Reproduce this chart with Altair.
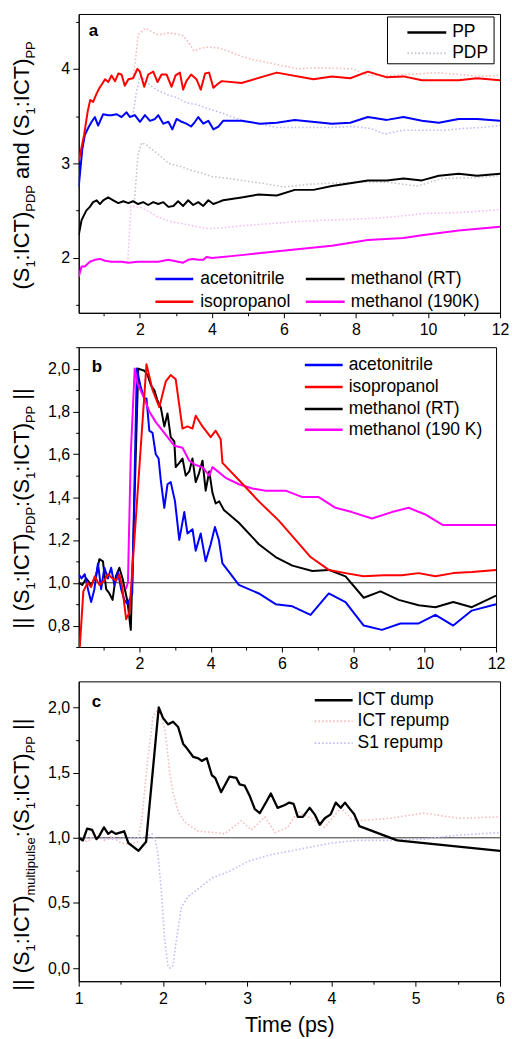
import altair as alt
import pandas as pd

FONT = "Liberation Sans"

# ---------------- panel a: (S1:ICT) ratio, PP solid / PDP dotted ----------------
a_acn_pp_t = [0.30, 0.40, 0.47, 0.57, 0.66, 0.75, 0.84, 0.98, 1.12, 1.21, 1.35, 1.49, 1.63, 1.72, 1.86,
              2.00, 2.14, 2.28, 2.42, 2.51, 2.65, 2.79, 2.90, 3.02, 3.16, 3.29, 3.42, 3.53, 3.62, 3.76,
              3.90, 4.04, 4.18, 4.31, 4.82, 5.33, 5.80, 6.30, 7.33, 7.84, 8.33, 8.86, 9.32, 9.83, 10.30,
              10.85, 11.36, 12.00]
a_acn_pp_v = [2.75, 3.15, 3.30, 3.38, 3.44, 3.49, 3.40, 3.52, 3.51, 3.51, 3.52, 3.49, 3.54, 3.49, 3.51,
              3.44, 3.51, 3.45, 3.47, 3.51, 3.42, 3.44, 3.36, 3.47, 3.44, 3.42, 3.39, 3.44, 3.49, 3.42,
              3.45, 3.36, 3.39, 3.45, 3.45, 3.42, 3.43, 3.46, 3.42, 3.43, 3.49, 3.46, 3.49, 3.45, 3.43,
              3.47, 3.47, 3.45]

a_ipa_pp_t = [0.30, 0.45, 0.55, 0.62, 0.70, 0.80, 0.88, 0.95, 1.03, 1.12, 1.21, 1.31, 1.40, 1.49, 1.58,
              1.68, 1.81, 1.93, 2.00, 2.12, 2.23, 2.37, 2.49, 2.60, 2.74, 2.88, 2.99, 3.11, 3.20, 3.29,
              3.42, 3.57, 3.69, 3.81, 3.92, 4.04, 4.16, 4.27, 4.82, 5.80, 6.82, 7.33, 7.84, 8.33, 8.86,
              9.32, 9.83, 10.85, 11.36, 12.00]
a_ipa_pp_v = [3.02, 3.30, 3.55, 3.67, 3.65, 3.74, 3.80, 3.84, 3.89, 3.86, 3.93, 3.87, 3.95, 3.94, 3.82,
              3.89, 3.90, 4.00, 3.97, 3.81, 3.94, 3.97, 3.86, 3.94, 3.94, 3.81, 3.93, 3.96, 3.78, 3.87,
              3.94, 3.89, 3.78, 3.95, 3.96, 3.80, 3.84, 3.87, 3.85, 3.96, 3.89, 3.92, 3.90, 3.97, 3.91,
              3.92, 3.88, 3.88, 3.90, 3.88]

a_meoh_pp_t = [0.30, 0.38, 0.51, 0.61, 0.70, 0.80, 0.89, 0.98, 1.12, 1.26, 1.40, 1.54, 1.68, 1.81, 1.95,
               2.09, 2.23, 2.37, 2.51, 2.65, 2.79, 2.93, 3.06, 3.20, 3.34, 3.48, 3.62, 3.76, 3.90, 4.04,
               4.18, 4.31, 4.82, 5.29, 5.80, 6.30, 6.82, 7.33, 7.84, 8.33, 8.86, 9.32, 9.83, 10.30, 10.85,
               11.36, 12.00]
a_meoh_pp_v = [2.24, 2.40, 2.50, 2.54, 2.59, 2.61, 2.57, 2.61, 2.64, 2.61, 2.58, 2.60, 2.58, 2.60, 2.57,
               2.59, 2.56, 2.59, 2.57, 2.59, 2.54, 2.55, 2.60, 2.55, 2.61, 2.56, 2.59, 2.55, 2.61, 2.57,
               2.59, 2.61, 2.64, 2.67, 2.66, 2.72, 2.72, 2.76, 2.79, 2.82, 2.82, 2.84, 2.82, 2.87, 2.89,
               2.87, 2.89]

a_cold_pp_t = [0.30, 0.38, 0.47, 0.61, 0.75, 0.89, 1.03, 1.21, 1.49, 1.68, 1.95, 2.23, 2.51, 2.79, 3.06,
               3.20, 3.34, 3.48, 3.62, 3.76, 3.85, 4.00, 4.82, 5.29, 6.30, 7.33, 8.33, 9.32, 9.83, 10.85,
               12.00]
a_cold_pp_v = [1.80, 1.91, 1.91, 1.96, 1.98, 1.99, 1.97, 1.96, 1.96, 1.95, 1.96, 1.96, 1.96, 1.98, 1.96,
               1.95, 1.98, 1.99, 1.98, 1.98, 2.01, 2.00, 2.03, 2.05, 2.09, 2.13, 2.19, 2.21, 2.24, 2.29,
               2.33]

a_ipa_pdp_t = [1.80, 1.88, 1.95, 2.05, 2.15, 2.30, 2.50, 2.80, 3.00, 3.20, 3.35, 3.50, 3.70, 3.90, 4.20,
               4.50, 4.70, 5.10, 5.75, 6.40, 6.80, 7.10, 7.90, 8.35, 9.00, 9.45, 10.20, 10.85, 11.40, 12.00]
a_ipa_pdp_v = [3.90, 4.10, 4.36, 4.40, 4.43, 4.40, 4.36, 4.38, 4.37, 4.35, 4.28, 4.19, 4.22, 4.23, 4.22,
               4.18, 4.15, 4.10, 4.05, 4.00, 4.01, 4.01, 4.00, 3.93, 3.93, 3.94, 3.96, 3.94, 3.92, 3.93]

a_acn_pdp_t = [1.80, 1.90, 2.00, 2.15, 2.30, 2.50, 2.80, 3.00, 3.30, 3.60, 3.80, 4.30, 4.80, 5.30, 5.80,
               6.50, 7.30, 7.90, 8.40, 8.80, 9.30, 9.80, 10.40, 11.00, 11.50, 12.00]
a_acn_pdp_v = [3.50, 3.75, 3.92, 3.88, 3.82, 3.77, 3.72, 3.70, 3.64, 3.62, 3.59, 3.53, 3.46, 3.42, 3.38,
               3.38, 3.38, 3.39, 3.37, 3.31, 3.35, 3.35, 3.35, 3.37, 3.38, 3.40]

a_meoh_pdp_t = [1.85, 1.95, 2.05, 2.20, 2.50, 2.80, 3.10, 3.40, 3.70, 4.00, 4.50, 4.82, 5.40, 6.00, 6.70,
                7.30, 8.00, 8.90, 9.70, 10.40, 11.30, 12.00]
a_meoh_pdp_v = [2.62, 3.10, 3.22, 3.19, 3.10, 3.00, 2.97, 2.93, 2.90, 2.86, 2.84, 2.82, 2.79, 2.75, 2.78,
                2.79, 2.80, 2.80, 2.76, 2.84, 2.85, 2.87]

a_cold_pdp_t = [1.66, 1.70, 1.75, 1.90, 2.05, 2.30, 2.51, 2.80, 3.20, 3.60, 3.90, 4.30, 4.82, 5.50, 6.20,
                7.10, 8.00, 8.90, 9.90, 10.85, 12.00]
a_cold_pdp_v = [1.95, 2.20, 2.55, 2.54, 2.53, 2.48, 2.43, 2.39, 2.36, 2.33, 2.31, 2.32, 2.34, 2.36, 2.38,
                2.40, 2.41, 2.43, 2.47, 2.48, 2.51]

# ---------------- panel b: ||(S1:ICT)PDP : (S1:ICT)PP|| ----------------
b_acn_t = [0.30, 0.38, 0.47, 0.56, 0.65, 0.74, 0.84, 0.93, 1.02, 1.12, 1.21, 1.30, 1.40, 1.49, 1.58, 1.67,
           1.80, 1.93, 2.03, 2.14, 2.20, 2.28, 2.37, 2.46, 2.54, 2.60, 2.70, 2.79, 2.88, 3.00, 3.12, 3.26,
           3.35, 3.49, 3.58, 3.72, 3.86, 4.00, 4.12, 4.23, 4.33, 4.79, 5.35, 5.82, 6.29, 6.80, 7.31, 7.78,
           8.29, 8.80, 9.32, 9.83, 10.30, 10.80, 11.32, 12.00]
b_acn_v = [1.04, 1.02, 1.04, 0.97, 0.91, 0.97, 1.09, 0.97, 1.07, 1.02, 1.07, 0.99, 1.05, 0.97, 0.92, 0.90,
           0.95, 2.00, 1.92, 1.86, 1.86, 1.71, 1.70, 1.60, 1.58, 1.48, 1.35, 1.46, 1.47, 1.38, 1.20, 1.33,
           1.23, 1.25, 1.15, 1.23, 1.10, 1.18, 1.26, 1.20, 1.09, 0.99, 0.95, 0.90, 0.89, 0.85, 0.95, 0.91,
           0.80, 0.78, 0.81, 0.81, 0.85, 0.80, 0.87, 0.90]

b_ipa_t = [0.30, 0.43, 0.55, 0.65, 0.75, 0.88, 0.95, 1.02, 1.12, 1.25, 1.35, 1.44, 1.52, 1.63, 1.72,
           2.20, 2.37, 2.56, 2.74, 2.88, 3.02, 3.21, 3.35, 3.49, 3.58, 3.77, 4.00, 4.14, 4.28, 4.33,
           4.79, 5.35, 5.91, 6.38, 6.80, 7.31, 7.78, 8.29, 8.85, 9.36, 9.83, 10.30, 10.80, 11.32, 12.00]
b_ipa_v = [0.62, 0.96, 1.00, 0.98, 1.03, 0.99, 1.00, 1.01, 1.04, 1.02, 1.01, 1.04, 0.98, 0.83, 0.86,
           2.02, 1.90, 1.82, 1.94, 1.97, 1.95, 1.72, 1.73, 1.72, 1.78, 1.73, 1.68, 1.71, 1.67, 1.56,
           1.48, 1.38, 1.29, 1.20, 1.12, 1.06, 1.045, 1.03, 1.035, 1.035, 1.045, 1.03, 1.045, 1.05, 1.06]

b_meoh_t = [0.30, 0.40, 0.51, 0.65, 0.78, 0.88, 0.98, 1.07, 1.16, 1.25, 1.34, 1.44, 1.53, 1.67, 1.76,
            1.97, 2.14, 2.23, 2.33, 2.42, 2.51, 2.60, 2.70, 2.79, 2.88, 2.98, 3.02, 3.12, 3.21, 3.30,
            3.40, 3.49, 3.58, 3.67, 3.77, 3.86, 3.96, 4.05, 4.14, 4.24, 4.37, 4.79, 5.35, 5.82, 6.29,
            6.85, 7.31, 7.78, 8.29, 8.76, 9.27, 9.83, 10.30, 10.80, 11.32, 12.00]
b_meoh_v = [1.00, 0.99, 1.02, 0.99, 1.03, 1.11, 1.10, 0.97, 0.95, 0.92, 1.03, 1.07, 1.02, 0.91, 0.78,
            2.00, 1.99, 1.97, 1.92, 1.90, 1.85, 1.82, 1.73, 1.79, 1.68, 1.66, 1.54, 1.56, 1.58, 1.50,
            1.52, 1.58, 1.47, 1.51, 1.57, 1.43, 1.52, 1.42, 1.37, 1.38, 1.34, 1.28, 1.18, 1.12, 1.08,
            1.055, 1.06, 1.03, 0.93, 0.96, 0.92, 0.895, 0.886, 0.91, 0.886, 0.94]

b_cold_t = [1.62, 1.68, 1.76, 1.87, 1.95, 2.14, 2.28, 2.46, 2.65, 2.84, 2.98, 3.21, 3.40, 3.58, 3.77,
            3.96, 4.05, 4.42, 4.79, 5.17, 5.54, 6.10, 6.57, 7.03, 7.50, 7.96, 8.52, 9.08, 9.55, 10.00,
            10.50, 11.04, 12.00]
b_cold_v = [0.97, 1.00, 1.60, 2.00, 1.93, 1.86, 1.80, 1.75, 1.71, 1.67, 1.64, 1.63, 1.57, 1.55, 1.54,
            1.50, 1.54, 1.49, 1.46, 1.44, 1.43, 1.43, 1.40, 1.40, 1.35, 1.33, 1.30, 1.33, 1.35, 1.32,
            1.27, 1.27, 1.27]

# ---------------- panel c: multipulse schemes ----------------
c_dump_t = [1.00, 1.05, 1.10, 1.16, 1.21, 1.24, 1.30, 1.35, 1.39, 1.44, 1.49, 1.54, 1.59, 1.71, 1.80,
            1.95, 2.00, 2.06, 2.12, 2.18, 2.24, 2.28, 2.36, 2.42, 2.46, 2.52, 2.58, 2.62, 2.69, 2.79,
            2.87, 2.91, 2.97, 3.03, 3.09, 3.15, 3.23, 3.28, 3.36, 3.44, 3.50, 3.55, 3.60, 3.66, 3.74,
            3.80, 3.86, 3.92, 3.99, 4.05, 4.11, 4.16, 4.22, 4.27, 4.33, 4.78, 6.00]
c_dump_v = [1.00, 0.98, 1.07, 1.06, 0.99, 1.01, 1.08, 1.03, 1.05, 1.03, 1.04, 1.05, 0.96, 0.90, 0.97,
            2.00, 1.92, 1.87, 1.89, 1.85, 1.72, 1.69, 1.62, 1.61, 1.59, 1.61, 1.48, 1.46, 1.35, 1.47,
            1.46, 1.41, 1.40, 1.32, 1.22, 1.19, 1.28, 1.34, 1.23, 1.25, 1.27, 1.26, 1.16, 1.16, 1.23,
            1.18, 1.10, 1.15, 1.18, 1.27, 1.23, 1.27, 1.22, 1.18, 1.09, 0.98, 0.90]

c_ict_t = [1.00, 1.10, 1.20, 1.30, 1.40, 1.50, 1.60, 1.70, 1.75, 1.82, 1.88, 1.92, 1.98, 2.03, 2.08,
           2.12, 2.18, 2.26, 2.42, 2.62, 2.73, 2.81, 2.93, 3.05, 3.21, 3.33, 3.48, 3.60, 3.76, 3.92,
           4.11, 4.23, 4.31, 4.50, 4.70, 5.10, 5.50, 6.00]
c_ict_v = [1.00, 0.97, 1.02, 0.98, 1.01, 0.96, 0.95, 0.97, 1.15, 1.60, 1.92, 1.97, 1.95, 1.80, 1.50,
           1.35, 1.20, 1.12, 1.05, 1.04, 1.03, 1.07, 1.13, 1.06, 1.16, 1.04, 1.08, 1.20, 1.15, 1.08,
           1.23, 1.15, 1.13, 1.14, 1.15, 1.19, 1.15, 1.16]

c_s1_t = [1.00, 1.20, 1.40, 1.60, 1.75, 1.87, 1.91, 1.94, 1.98, 2.02, 2.06, 2.09, 2.12, 2.16, 2.22,
          2.30, 2.42, 2.58, 2.81, 3.01, 3.28, 3.60, 4.00, 4.31, 4.70, 5.10, 5.49, 6.00]
c_s1_v = [1.00, 1.00, 0.99, 1.00, 1.00, 1.03, 0.98, 0.88, 0.60, 0.22, 0.01, 0.00, 0.02, 0.22, 0.47,
          0.55, 0.61, 0.69, 0.75, 0.82, 0.87, 0.91, 0.96, 0.98, 0.98, 0.99, 1.02, 1.04]

# legend texts and colours
a_solvents = ["acetonitrile", "isopropanol", "methanol (RT)", "methanol (190K)"]
b_solvents = ["acetonitrile", "isopropanol", "methanol (RT)", "methanol (190 K)"]
c_schemes = ["ICT dump", "ICT repump", "S1 repump"]
a_kinds = ["PP", "PDP"]
solid_colors = ["#0000ff", "#ff0000", "#000000", "#ff00ff"]
pale_colors = ["#bcbcf8", "#f7b9b9", "#c4c4c4", "#f5bcf5"]

# axis ranges and ticks
A_X, A_Y = [0.3, 12], [1.42, 4.58]
B_X, B_Y = [0.3, 12], [0.70, 2.10]
C_X, C_Y = [1, 6], [-0.10, 2.20]

DOT = [1.5, 2.2]
COMMA = "replace(format(datum.value, '.1f'), '.', ',')"

# Arial / Liberation Sans advance widths (per 1000 em) for title layout
AW = {' ': 278, '(': 333, ')': 333, ':': 278, 'S': 667, 'I': 278, 'C': 722, 'T': 611, 'P': 667,
      'D': 722, 'a': 556, 'n': 556, 'd': 556, '1': 556, '|': 260, 'm': 833, 'u': 556, 'l': 222,
      't': 278, 'i': 222, 'p': 556, 's': 500, 'e': 556}


def tw(s, size):
    return sum(AW[c] for c in s) * size / 1000.0


def sdf(t, v):
    return pd.DataFrame({"t": t, "v": v})


def enc(xdom, ydom, xaxis=None, yaxis=None):
    return {
        "x": alt.X("t:Q", scale=alt.Scale(domain=xdom, nice=False, zero=False), axis=xaxis),
        "y": alt.Y("v:Q", scale=alt.Scale(domain=ydom, nice=False, zero=False), axis=yaxis),
    }


def line(t, v, color, xdom, ydom, width=2.0, dash=None):
    kw = dict(color=color, strokeWidth=width, clip=True, strokeJoin="round")
    if dash:
        kw["strokeDash"] = dash
    return alt.Chart(sdf(t, v)).mark_line(**kw).encode(**enc(xdom, ydom))


def xaxis(values, minor=False, title=None):
    if minor:
        return alt.Axis(orient="bottom", values=values, labels=False, domain=False, tickSize=3,
                        grid=False, title=None)
    return alt.Axis(orient="bottom", values=values, tickSize=5, labelPadding=4, grid=False,
                    format="d", title=title, titlePadding=8)


def yaxis(values, minor=False, expr=None):
    if minor:
        return alt.Axis(orient="left", values=values, labels=False, domain=False, tickSize=3,
                        grid=False, title=None)
    if expr:
        return alt.Axis(orient="left", values=values, tickSize=6, labelPadding=3, grid=False,
                        labelExpr=expr, title=None)
    return alt.Axis(orient="left", values=values, tickSize=6, labelPadding=3, grid=False,
                    format="d", title=None)


def axis_layers(t, v, xdom, ydom, xmaj, xmin, ymaj, ymin):
    d = sdf(t, v)
    return [
        alt.Chart(d).mark_line(opacity=0).encode(**enc(xdom, ydom, xmaj, ymaj)),
        alt.Chart(d).mark_line(opacity=0).encode(**enc(xdom, ydom, xmin, ymin)),
    ]


def text(s, x, y, size, **kw):
    return alt.Chart(pd.DataFrame({"s": [s]})).mark_text(
        font=FONT, fontSize=size, color="black", **kw
    ).encode(text="s:N", x=alt.value(x), y=alt.value(y))


def legend_entry(s, color, x0, x1, y, tx, width=2.5, dash=None, size=17.5):
    kw = dict(color=color, strokeWidth=width)
    if dash:
        kw["strokeDash"] = dash
    rule = alt.Chart(pd.DataFrame({"s": [s]})).mark_rule(**kw).encode(
        x=alt.value(x0), x2=alt.value(x1), y=alt.value(y))
    return [rule, text(s, tx, y, size, align="left", baseline="middle")]


def vertical_title(pieces, cy, xb, main=22, sub=13, shift=6):
    """Rotated axis title built from normal and subscript pieces, reading bottom to top."""
    total = sum(tw(p, sub if s else main) for p, s in pieces)
    y = cy + total / 2.0
    out = []
    for p, s in pieces:
        size = sub if s else main
        core = p.strip()
        lead = p[: len(p) - len(p.lstrip())]
        trail = p[len(p.rstrip()):]
        y -= tw(lead, size)
        out.append(text(core, xb + (shift if s else 0), y, size, angle=270, align="left",
                        baseline="alphabetic"))
        y -= tw(core, size) + tw(trail, size)
    return out


def ref_line(xdom, ydom):
    return alt.Chart(pd.DataFrame({"v": [1.0]})).mark_rule(color="#333333", strokeWidth=1).encode(
        y=alt.Y("v:Q", scale=alt.Scale(domain=ydom, nice=False, zero=False), axis=None))


# ---------------- panel a ----------------
a_layers = axis_layers(
    a_acn_pp_t, a_acn_pp_v, A_X, A_Y,
    xaxis([2, 4, 6, 8, 10, 12]), xaxis([1, 3, 5, 7, 9, 11], minor=True),
    yaxis([2, 3, 4]), yaxis([1.5, 2.5, 3.5, 4.5], minor=True))
pdp = [(a_acn_pdp_t, a_acn_pdp_v), (a_ipa_pdp_t, a_ipa_pdp_v),
       (a_meoh_pdp_t, a_meoh_pdp_v), (a_cold_pdp_t, a_cold_pdp_v)]
pp = [(a_acn_pp_t, a_acn_pp_v), (a_ipa_pp_t, a_ipa_pp_v),
      (a_meoh_pp_t, a_meoh_pp_v), (a_cold_pp_t, a_cold_pp_v)]
for (t, v), col in zip(pdp, pale_colors):
    a_layers.append(line(t, v, col, A_X, A_Y, width=1.6, dash=DOT))
for i in [3, 2, 0, 1]:
    a_layers.append(line(pp[i][0], pp[i][1], solid_colors[i], A_X, A_Y, width=2.0))

a_layers.append(text("a", 10, 22, 17, fontWeight="bold", align="left", baseline="alphabetic"))
# solvent legend, two columns
a_cols = [(77, 115, 122), (77, 115, 122), (228, 267, 273), (228, 267, 273)]
a_rows = [266, 289, 266, 289]
for s, col, (x0, x1, tx), y in zip(a_solvents, solid_colors, a_cols, a_rows):
    a_layers += legend_entry(s, col, x0, x1, y, tx)
# PP / PDP legend in a box
a_layers.append(alt.Chart(pd.DataFrame({"s": ["box"]})).mark_rect(
    fill="white", fillOpacity=0, stroke="black", strokeWidth=1).encode(
    x=alt.value(310), x2=alt.value(417), y=alt.value(3), y2=alt.value(50)))
a_layers += legend_entry(a_kinds[0], "black", 330, 369, 18.5, 375)
a_layers += legend_entry(a_kinds[1], "#c8c4d6", 330, 369, 39.5, 375, width=2.0, dash=DOT)
a_layers += vertical_title(
    [("(S", 0), ("1", 1), (":ICT)", 0), ("PDP", 1), (" and (S", 0), ("1", 1), (":ICT)", 0),
     ("PP", 1)], 152, -50)

panel_a = alt.layer(*a_layers).resolve_axis(x="independent", y="independent").properties(
    width=423, height=300)

# ---------------- panel b ----------------
b_layers = axis_layers(
    b_acn_t, b_acn_v, B_X, B_Y,
    xaxis([2, 4, 6, 8, 10, 12]), xaxis([1, 3, 5, 7, 9, 11], minor=True),
    yaxis([0.8, 1.0, 1.2, 1.4, 1.6, 1.8, 2.0], expr=COMMA),
    yaxis([0.7, 0.9, 1.1, 1.3, 1.5, 1.7, 1.9, 2.1], minor=True))
b_layers.append(ref_line(B_X, B_Y))
b_series = [(b_acn_t, b_acn_v), (b_ipa_t, b_ipa_v), (b_meoh_t, b_meoh_v), (b_cold_t, b_cold_v)]
for i in [2, 0, 3, 1]:
    b_layers.append(line(b_series[i][0], b_series[i][1], solid_colors[i], B_X, B_Y, width=2.0))
b_layers.append(text("b", 13, 25, 17, fontWeight="bold", align="left", baseline="alphabetic"))
for s, col, y in zip(b_solvents, solid_colors, [18, 40, 62, 83]):
    b_layers += legend_entry(s, col, 227, 265, y, 271)
b_layers += vertical_title(
    [("|| (S", 0), ("1", 1), (":ICT)", 0), ("PDP", 1), (":(S", 0), ("1", 1), (":ICT)", 0),
     ("PP", 1), (" ||", 0)], 162, -50)

panel_b = alt.layer(*b_layers).resolve_axis(x="independent", y="independent").properties(
    width=419, height=301)

# ---------------- panel c ----------------
c_layers = axis_layers(
    c_dump_t, c_dump_v, C_X, C_Y,
    xaxis([1, 2, 3, 4, 5, 6], title="Time (ps)"), xaxis([1.5, 2.5, 3.5, 4.5, 5.5], minor=True),
    yaxis([0.0, 0.5, 1.0, 1.5, 2.0], expr=COMMA),
    yaxis([0.25, 0.75, 1.25, 1.75], minor=True))
c_layers.append(ref_line(C_X, C_Y))
c_layers.append(line(c_ict_t, c_ict_v, pale_colors[1], C_X, C_Y, width=1.6, dash=DOT))
c_layers.append(line(c_s1_t, c_s1_v, pale_colors[0], C_X, C_Y, width=1.6, dash=DOT))
c_layers.append(line(c_dump_t, c_dump_v, "black", C_X, C_Y, width=2.3))
c_layers.append(text("c", 13, 26, 17, fontWeight="bold", align="left", baseline="alphabetic"))
c_legend = [("black", 2.5, None), (pale_colors[1], 2.0, DOT), (pale_colors[0], 2.0, DOT)]
for s, (col, w, dash), y in zip(c_schemes, c_legend, [19, 40, 62]):
    c_layers += legend_entry(s, col, 237, 275, y, 280, width=w, dash=dash)
c_layers += vertical_title(
    [("|| (S", 0), ("1", 1), (":ICT)", 0), ("multipulse", 1), (":(S", 0), ("1", 1), (":ICT)", 0),
     ("PP", 1), (" ||", 0)], 174, -50)

panel_c = alt.layer(*c_layers).resolve_axis(x="independent", y="independent").properties(
    width=423, height=301)

chart = alt.vconcat(panel_a, panel_b, panel_c, spacing=7.5).resolve_scale(
    x="independent", y="independent"
).properties(
    padding={"left": 10, "top": 11, "right": 2, "bottom": 2}
).configure_view(
    stroke="black", strokeWidth=1
).configure_axis(
    labelFont=FONT, labelFontSize=16, labelColor="black", tickColor="black", tickWidth=1,
    domainColor="black", domainWidth=1, titleFont=FONT, titleFontSize=21.5, titleColor="black",
    titleFontWeight="normal", labelFlush=False, grid=False
)

chart.save("out.html", embed_options={"renderer": "svg", "actions": False})
